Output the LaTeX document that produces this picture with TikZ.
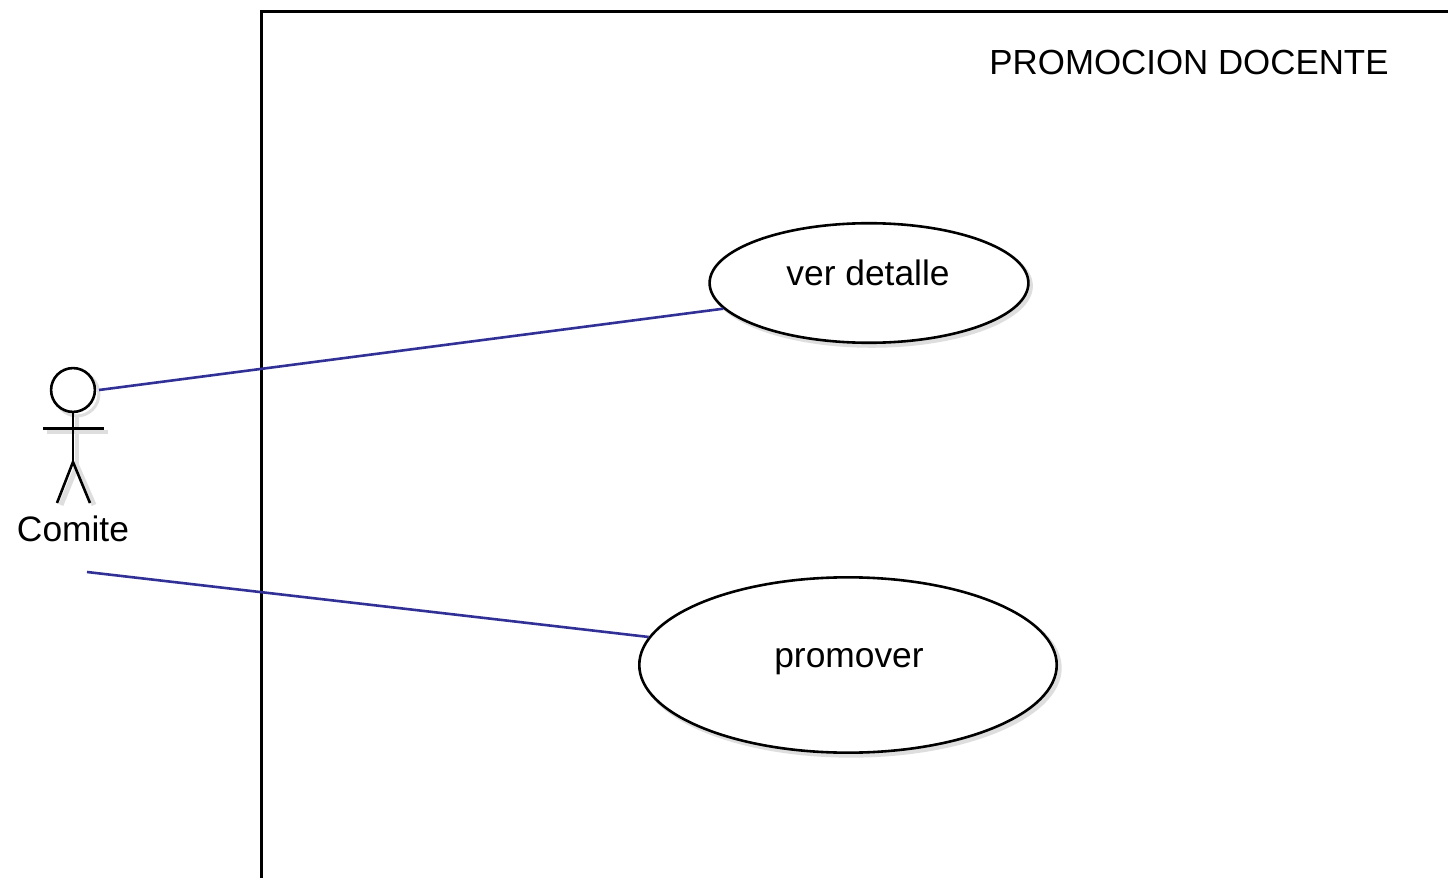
\documentclass[tikz,border=0pt]{standalone}
\usepackage{fontspec}
\setmainfont{Liberation Sans}
\usetikzlibrary{shapes.geometric}
\definecolor{assoc}{RGB}{48,48,150}
\definecolor{shadowc}{RGB}{222,222,222}
\tikzset{
  x=0.0352778cm,y=-0.0352778cm,
  usecase/.style={ellipse,draw=black,line width=2.6pt,inner sep=0pt,fill=white},
  ucshadow/.style={ellipse,fill=shadowc,inner sep=0pt},
  assocline/.style={draw=assoc,line width=2.6pt},
  lbl/.style={font=\fontsize{35.5pt}{40pt}\selectfont,inner sep=0pt,text=black},
  figure/.style={draw=black,line width=2.6pt},
  figshadow/.style={draw=shadowc,line width=5pt}
}
\begin{document}
\begin{tikzpicture}
\useasboundingbox (0,0) rectangle (1448,878);
\fill[white] (0,0) rectangle (1448,878);
% system boundary
\draw[figure,line width=3pt] (1448,11.5) -- (261.5,11.5) -- (261.5,878);
\node[lbl,font=\fontsize{35pt}{40pt}\selectfont,anchor=base] (title) at (1189,75) {PROMOCION DOCENTE};
% use case shadows
\node[ucshadow,minimum width=323pt,minimum height=124pt] at (872,286) {};
\node[ucshadow,minimum width=423pt,minimum height=180pt] at (851,668) {};
% actor shadow
\node[circle,draw=shadowc,line width=3pt,minimum size=44pt,inner sep=0pt] (heads) at (77,394) {};
\coordinate (hips) at (77,466);
\draw[figshadow] (heads.south) -- (hips);
\coordinate (armLs) at (47,432);
\coordinate (armRs) at (108,432);
\coordinate (footLs) at (61,505);
\coordinate (footRs) at (94,505);
\draw[figshadow] (armLs) -- (armRs);
\draw[figshadow] (footLs) -- (hips) -- (footRs);
% use cases
\node[usecase,minimum width=320pt,minimum height=120pt] (uc1) at (869,283) {};
\node[usecase,minimum width=419pt,minimum height=176pt] (uc2) at (848,665) {};
\node[lbl,anchor=base] (t1) at (868,285) {ver detalle};
\node[lbl,anchor=base] (t2) at (849,667) {promover};
% actor
\node[circle,draw=black,line width=2.6pt,fill=white,minimum size=44pt,inner sep=0pt] (head) at (73,390) {};
\coordinate (hip) at (73,462);
\coordinate (armL) at (43,428.5);
\coordinate (armR) at (104,428.5);
\coordinate (footL) at (57,503);
\coordinate (footR) at (90,503);
\draw[figure] (head.south) -- (hip);
\draw[figure] (armL) -- (armR);
\draw[figure] (footL) -- (hip) -- (footR);
\node[lbl,anchor=base] (actor) at (73,541) {Comite};
% associations
\coordinate (a1) at (99,390);
\coordinate (a2) at (87,572);
\draw[assocline] (a1) -- (uc1.190);
\draw[assocline] (a2) -- (uc2.172.1);
\end{tikzpicture}
\end{document}
